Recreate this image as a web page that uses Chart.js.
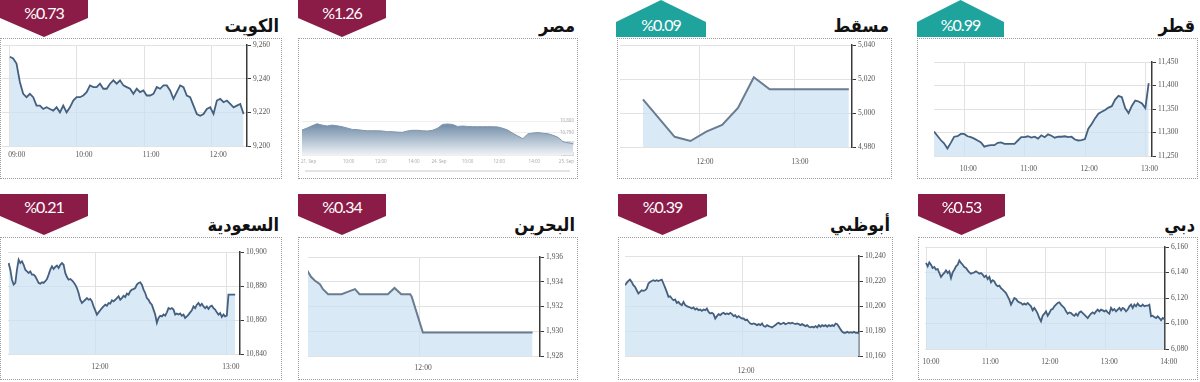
<!DOCTYPE html>
<html>
<head>
<meta charset="utf-8">
<script src="https://cdn.jsdelivr.net/npm/chart.js@4.4.1/dist/chart.umd.min.js"></script>
<style>
  body { margin: 0; width: 1200px; height: 382px; position: relative; overflow: hidden; background: #fff; }
  .card { position: absolute; box-sizing: border-box; border: 1px dotted #9c9c9c; }
  .title { position: absolute; font: bold 18px "DejaVu Sans Condensed", "DejaVu Sans", sans-serif; color: #111; direction: rtl; white-space: nowrap; line-height: 24px; }
  .badge { position: absolute; }
  .badge-text { position: absolute; width: 90px; text-align: center; color: #fff; font: 16px Lato, sans-serif; letter-spacing: -1px; line-height: 18px; direction: ltr; }
  canvas { position: absolute; }
  .nav { position: absolute; background: #e4e4e4; }
</style>
</head>
<body>
<script>
// market names, daily change and direction (up = teal badge)
const marketNames = ['الكويت', 'مصر', 'مسقط', 'قطر', 'السعودية', 'البحرين', 'أبوظبي', 'دبي'];
const marketChanges = ['%0.73', '%1.26', '%0.09', '%0.99', '%0.21', '%0.34', '%0.39', '%0.53'];
const marketUp = [false, false, true, true, false, false, false, false];

// Kuwait
const kuwaitTimeLabels = ['09:00', '10:00', '11:00', '12:00'];
const kuwaitTicks = [9200, 9220, 9240, 9260];
const kuwaitStart = '09:00', kuwaitStep = 2.985;
const kuwaitValues = [9253, 9252, 9249, 9238, 9231, 9229, 9231, 9229, 9224, 9224,
  9222, 9223, 9222, 9221, 9223, 9220, 9224, 9220, 9223, 9227,
  9229, 9229, 9230, 9232, 9236, 9235, 9235, 9237, 9234, 9234,
  9237, 9239, 9237, 9239, 9236, 9235, 9234, 9231, 9234, 9232,
  9233, 9230, 9230, 9231, 9235, 9234, 9236, 9236, 9233, 9228,
  9232, 9236, 9235, 9230, 9229, 9224, 9219, 9218, 9219, 9222,
  9223, 9219, 9227, 9228, 9226, 9227, 9225, 9223, 9224, 9225, 9219];

// Egypt
const egyptTimeLabels = ['21. Sep', '10:00', '12:00', '14:00', '24. Sep', '10:00', '12:00', '14:00', '25. Sep'];
const egyptTickAt = [1.3, 9.3, 15.7, 22.3, 27.3, 33, 39.3, 46.3, 52.7];
const egyptTicks = [10650, 10700, 10750, 10800];
const egyptValues = [10760, 10769, 10779, 10788, 10782, 10778, 10782, 10779, 10775, 10769,
  10763, 10762, 10759, 10757, 10757, 10757, 10756, 10753, 10753, 10751,
  10750, 10756, 10759, 10759, 10757, 10756, 10759, 10768, 10785, 10787,
  10785, 10776, 10778, 10776, 10775, 10775, 10775, 10775, 10775, 10774,
  10768, 10760, 10746, 10734, 10722, 10743, 10747, 10749, 10746, 10744,
  10737, 10728, 10709, 10704, 10701];

// Muscat
const muscatTimeLabels = ['12:00', '13:00'];
const muscatTicks = [4980, 5000, 5020, 5040];
const muscatStart = '11:24', muscatStep = 10;
const muscatValues = [5008, 4997, 4986, 4983.5, 4989, 4993, 5003, 5021, 5014, 5014, 5014, 5014, 5014, 5014];

// Qatar
const qatarTimeLabels = ['10:00', '11:00', '12:00', '13:00'];
const qatarTicks = [11250, 11300, 11350, 11400, 11450];
const qatarStart = '09:30', qatarStep = 3.33;
const qatarValues = [11302, 11293, 11284, 11277, 11266, 11278, 11291, 11292, 11297, 11297,
  11292, 11290, 11287, 11283, 11279, 11270, 11272, 11273, 11273, 11278,
  11279, 11276, 11276, 11276, 11276, 11283, 11290, 11290, 11292, 11289,
  11291, 11287, 11294, 11290, 11296, 11293, 11289, 11291, 11291, 11292,
  11290, 11291, 11285, 11283, 11284, 11286, 11308, 11318, 11330, 11340,
  11344, 11348, 11353, 11356, 11370, 11378, 11375, 11352, 11341, 11357,
  11368, 11366, 11362, 11352, 11405];

// Saudi
const saudiTimeLabels = ['12:00', '13:00'];
const saudiTicks = [10840, 10860, 10880, 10900];
const saudiStart = '11:20', saudiStep = 0.763;
const saudiValues = [10893.5, 10889.6, 10883.7, 10880.8, 10881.8, 10889.6, 10895.5, 10893.5, 10894.5, 10892.5,
  10889.6, 10888.6, 10887.7, 10888.6, 10886.7, 10886.7, 10885.7, 10883.7, 10881.8, 10881.4,
  10882.2, 10881.8, 10882.8, 10884.1, 10886.7, 10889.6, 10891.6, 10890, 10891.2, 10892,
  10890.6, 10892.5, 10893.5, 10892.5, 10887.7, 10885.3, 10883.7, 10884.1, 10883.3, 10882.2,
  10880.8, 10878.8, 10875.9, 10871.9, 10870, 10871, 10871.9, 10872.9, 10871.9, 10872.4,
  10871, 10868, 10865.7, 10863.2, 10864.5, 10865.7, 10867, 10868, 10869, 10868.4,
  10870, 10869.6, 10871.6, 10871, 10871.9, 10872.9, 10873.9, 10871.9, 10872.9, 10874.3,
  10873.5, 10875.5, 10874.9, 10876.9, 10877.9, 10878.2, 10878.8, 10880.8, 10881.8, 10882.2,
  10880.8, 10877.9, 10875.9, 10872.9, 10871.9, 10870, 10869, 10866.1, 10863.2, 10858.3,
  10861.2, 10862.5, 10862.1, 10863.2, 10862.5, 10864.5, 10867, 10866.5, 10867, 10866.1,
  10863.2, 10863.8, 10863.2, 10863.8, 10862.5, 10863.2, 10861.2, 10862.1, 10863.2, 10864.5,
  10865.7, 10868, 10867, 10869, 10870, 10868.4, 10869.6, 10868, 10867, 10868,
  10866.5, 10868, 10868.4, 10867, 10866.1, 10864.5, 10863.2, 10864.1, 10861.8, 10863.2,
  10862.1, 10862.5, 10874.9, 10874.9, 10874.9, 10874.9, 10874.9];

// Bahrain (irregular trades)
const bahrainTimeLabels = ['12:00'];
const bahrainTicks = [1928, 1930, 1932, 1934, 1936];
const bahrainTimes = ['09:30', '09:35', '09:40', '09:47', '09:51', '09:58', '10:16', '10:25', '10:34',
  '10:40', '11:18', '11:27', '11:36', '11:48', '11:50', '12:05', '14:32'];
const bahrainValues = [1934.9, 1934.4, 1934.1, 1933.8, 1933.4, 1933.0, 1933.0, 1933.2, 1933.4,
  1933.0, 1933.0, 1933.5, 1933.0, 1933.0, 1932.8, 1929.9, 1929.9];

// Abu Dhabi
const abudhabiTimeLabels = ['12:00'];
const abudhabiTicks = [10160, 10180, 10200, 10220, 10240];
const abudhabiStart = '10:00', abudhabiStep = 1.714;
const abudhabiValues = [10216.6, 10218.5, 10220, 10221.1, 10219.3, 10216.6, 10215.3, 10212.6, 10210, 10211.3,
  10212.6, 10212.1, 10212.6, 10214, 10218, 10219.3, 10220, 10220.6, 10220, 10220.6,
  10220, 10220.6, 10221.1, 10218, 10214.7, 10211.3, 10207.3, 10207.8, 10206, 10204.6,
  10205.2, 10202.5, 10203.3, 10201.5, 10200.7, 10203.3, 10200.7, 10199.9, 10199.3, 10198.8,
  10198, 10198.8, 10197.2, 10198, 10196.7, 10197.2, 10196.1, 10197.2, 10196.7, 10198,
  10195.3, 10194, 10194.5, 10193.5, 10190, 10191.9, 10193.5, 10192.7, 10194, 10194.5,
  10193.5, 10194, 10193.5, 10194.5, 10193.5, 10191.9, 10192.7, 10190.8, 10191.9, 10190.8,
  10190, 10190, 10188.7, 10189.2, 10187.4, 10186, 10185.5, 10186, 10185.5, 10184.7,
  10185.5, 10184.7, 10186, 10183.9, 10183.4, 10184.7, 10183.9, 10183.4, 10182.9, 10183.9,
  10184.7, 10186, 10186.6, 10185.5, 10186, 10186.6, 10185.5, 10186, 10186.6, 10186,
  10186.6, 10186, 10185.5, 10186, 10185.5, 10184.7, 10185.5, 10184.7, 10183.9, 10184.7,
  10183.4, 10182.9, 10183.4, 10182.9, 10183.9, 10182.9, 10184.7, 10183.4, 10184.7, 10183.9,
  10184.7, 10183.4, 10184.7, 10183.9, 10184.7, 10183.9, 10186, 10185.5, 10183.4, 10181.3,
  10179.4, 10178.6, 10178.6, 10179.4, 10178.6, 10179.1, 10178.6, 10179.4, 10178.6, 10178.6,
  10178];

// Dubai
const dubaiTimeLabels = ['10:00', '11:00', '12:00', '13:00', '14:00'];
const dubaiTicks = [6080, 6100, 6120, 6140, 6160];
const dubaiStart = '09:59', dubaiStep = 1.683;
const dubaiValues = [6147.5, 6144.8, 6148, 6146.1, 6143.5, 6144.3, 6142.2, 6142.8, 6139.6, 6136.5,
  6138.3, 6139.6, 6141.7, 6139.6, 6140.9, 6135.7, 6140.1, 6142.2, 6144.8, 6146.1,
  6149.5, 6147.5, 6146.1, 6144.3, 6143.5, 6141.7, 6140.1, 6139.1, 6139.6, 6140.1,
  6140.9, 6140.1, 6139.1, 6139.6, 6138.3, 6136.5, 6137.5, 6134.9, 6136.5, 6132.3,
  6133.9, 6133.1, 6130.5, 6129.2, 6129.7, 6127.8, 6126.5, 6125.2, 6123.9, 6121.3,
  6118.7, 6114.8, 6117.4, 6120, 6119.2, 6117.4, 6116.6, 6116.1, 6114.8, 6115.6,
  6114.8, 6116.1, 6114.8, 6113.5, 6110.3, 6112.2, 6110.3, 6107.7, 6104.3, 6101.7,
  6106.1, 6107.7, 6109.5, 6106.1, 6108.2, 6110.9, 6111.4, 6113.5, 6114.8, 6116.1,
  6116.6, 6114.8, 6113.5, 6112.2, 6109.5, 6107.7, 6108.7, 6108.2, 6106.9, 6106.1,
  6107.7, 6106.1, 6108.7, 6109.5, 6108.2, 6106.9, 6105.6, 6104.3, 6106.1, 6107.7,
  6108.7, 6107.7, 6109.5, 6110.9, 6109.5, 6110.9, 6110.3, 6109.5, 6110.3, 6108.7,
  6107.7, 6112.2, 6110.3, 6111.4, 6109.5, 6110.9, 6112.2, 6110.3, 6112.2, 6111.4,
  6109.5, 6110.9, 6113.5, 6114.8, 6112.2, 6114.8, 6113.5, 6115.6, 6114, 6113.5,
  6114.8, 6113.5, 6114, 6114, 6114.8, 6105.6, 6106.1, 6105, 6104.3, 6105.6,
  6104.3, 6102.5, 6104.3, 6103.5];

const toMin = s => { const [h, m] = s.split(':').map(Number); return h * 60 + m; };
const series = (start, step, values) => values.map((v, i) => ({ x: toMin(start) + i * step, y: v }));

// layout of each card: card box and plot box in page pixels
const panels = [
  { card: [0, 38, 282, 179], plot: [2, 45, 247, 146], xRange: [533, 752], points: series(kuwaitStart, kuwaitStep, kuwaitValues),
    xTicks: kuwaitTimeLabels.map(toMin), xLabels: kuwaitTimeLabels, yTicks: kuwaitTicks, labelOffset: 7, xPad: 5 },
  { card: [298, 38, 578, 179], plot: [302, 44, 573, 155], xRange: [0, 54], points: egyptValues.map((v, i) => ({ x: i, y: v })),
    xTicks: egyptTickAt, xLabels: egyptTimeLabels, yTicks: egyptTicks, yMax: 11140, egypt: true },
  { card: [617, 38, 892, 179], plot: [620, 45, 852, 147], xRange: [669.5, 816], points: series(muscatStart, muscatStep, muscatValues),
    xTicks: muscatTimeLabels.map(toMin), xLabels: muscatTimeLabels, yTicks: muscatTicks, labelOffset: 5, xPad: 11, thick: true },
  { card: [917, 38, 1198, 179], plot: [934, 62, 1152, 156], xRange: [570, 786.4], points: series(qatarStart, qatarStep, qatarValues),
    xTicks: qatarTimeLabels.map(toMin), xLabels: qatarTimeLabels, yTicks: qatarTicks, labelOffset: 4, xPad: 9 },
  { card: [0, 237, 282, 380], plot: [8, 252, 240, 354], xRange: [679.7, 786], points: series(saudiStart, saudiStep, saudiValues),
    xTicks: saudiTimeLabels.map(toMin), xLabels: saudiTimeLabels, yTicks: saudiTicks, labelOffset: 4, xPad: 9 },
  { card: [298, 237, 578, 380], plot: [308, 257, 540, 356], xRange: [571, 882], points: bahrainTimes.map((t, i) => ({ x: toMin(t), y: bahrainValues[i] })),
    xTicks: bahrainTimeLabels.map(toMin), xLabels: bahrainTimeLabels, yTicks: bahrainTicks, labelOffset: 4, xPad: 8, thick: true },
  { card: [618, 237, 893, 380], plot: [625, 256, 859, 356], xRange: [600, 840], points: series(abudhabiStart, abudhabiStep, abudhabiValues),
    xTicks: abudhabiTimeLabels.map(toMin), xLabels: abudhabiTimeLabels, yTicks: abudhabiTicks, labelOffset: 4, xPad: 11 },
  { card: [918, 237, 1198, 380], plot: [925, 247, 1165, 349], xRange: [598, 840.3], points: series(dubaiStart, dubaiStep, dubaiValues),
    xTicks: dubaiTimeLabels.map(toMin), xLabels: dubaiTimeLabels, yTicks: dubaiTicks, labelOffset: 4, xPad: 9 }
];

// badge boxes: left, top, width, height
const badgeBoxes = [
  [0, -2, 88, 39], [298, -2, 88, 39], [616, 0, 90, 37], [917, 0, 87, 37],
  [0, 194, 88, 41], [298, 194, 88, 41], [618, 194, 89, 41], [918, 194, 87, 41]
];

const M = 14;
const tickFont = { family: '"Liberation Serif", serif', size: 7.5 };

function addDiv(cls, css, text) {
  const d = document.createElement('div');
  d.className = cls;
  Object.assign(d.style, css);
  if (text) d.textContent = text;
  document.body.appendChild(d);
  return d;
}

panels.forEach((p, k) => {
  const [cl, ct, cr, cb] = p.card;
  addDiv('card', { left: cl + 'px', top: ct + 'px', width: (cr - cl) + 'px', height: (cb - ct) + 'px' });

  // title, right aligned above the card
  addDiv('title', { right: (1200 - cr + 3) + 'px', top: (ct - 24) + 'px' }, marketNames[k]);

  // badge shape
  const [bl, bt, bw, bh] = badgeBoxes[k];
  const up = marketUp[k];
  const cut = up ? 22 / bh * 100 : (bh - 19) / bh * 100;
  addDiv('badge', {
    left: bl + 'px', top: bt + 'px', width: bw + 'px', height: bh + 'px',
    background: up ? '#1fa39d' : '#8b1c47',
    clipPath: up ? `polygon(50% 0, 100% ${cut}%, 100% 100%, 0 100%, 0 ${cut}%)`
                 : `polygon(0 0, 100% 0, 100% ${cut}%, 50% 100%, 0 ${cut}%)`
  });
  const textY = up ? bt + 16 : bt + (k < 4 ? 6 : 4);
  addDiv('badge-text', { left: (bl + bw / 2 - 45) + 'px', top: textY + 'px' }, marketChanges[k]);

  if (p.egypt) addDiv('nav', { left: '305px', top: '170px', width: '265px', height: '2px' });

  const canvas = document.createElement('canvas');
  canvas.width = cr - cl + 2 * M;
  canvas.height = cb - ct;
  canvas.style.left = (cl - M) + 'px';
  canvas.style.top = ct + 'px';
  document.body.appendChild(canvas);

  const yW = cr - p.plot[2];
  const xH = cb - p.plot[3];
  const yMin = p.yTicks[0];
  const yMax = p.yMax || p.yTicks[p.yTicks.length - 1];

  const egyptFill = ctx => {
    const { chart } = ctx;
    if (!chart.chartArea) return 'rgba(0,0,0,0)';
    const g = chart.ctx.createLinearGradient(0, chart.scales.y.getPixelForValue(Math.max(...egyptValues)), 0, chart.chartArea.bottom);
    g.addColorStop(0, '#6f8ba7');
    g.addColorStop(1, '#eef2f6');
    return g;
  };

  new Chart(canvas, {
    type: 'line',
    data: {
      datasets: [{
        data: p.points,
        borderColor: p.egypt ? '#7f95aa' : (p.thick ? '#6a7c90' : '#45607f'),
        borderWidth: p.egypt ? 1 : (p.thick ? 2 : 1.8),
        backgroundColor: p.egypt ? egyptFill : 'rgba(204,224,243,0.72)',
        fill: 'start',
        pointRadius: 0,
        tension: 0
      }]
    },
    options: {
      responsive: false,
      animation: false,
      events: [],
      layout: { padding: { left: p.plot[0] - (cl - M), top: p.plot[1] - ct, right: M, bottom: 0 } },
      plugins: { legend: { display: false }, tooltip: { enabled: false } },
      scales: {
        x: {
          type: 'linear',
          min: p.xRange[0],
          max: p.xRange[1],
          afterBuildTicks: s => { s.ticks = p.xTicks.map(v => ({ value: v })); },
          afterFit: s => { s.height = xH; },
          border: { display: false },
          grid: { display: !p.egypt, color: '#e2e2e2', drawTicks: false },
          ticks: {
            autoSkip: false, maxRotation: 0,
            callback: (v, i) => p.xLabels[i],
            labelOffset: p.egypt ? 0 : p.labelOffset,
            padding: p.egypt ? 4 : p.xPad,
            color: p.egypt ? '#a9a9a9' : '#555',
            font: p.egypt ? { family: '"Open Sans", sans-serif', size: 4.5 } : tickFont
          }
        },
        y: {
          position: 'right',
          min: yMin,
          max: yMax,
          afterBuildTicks: s => { s.ticks = p.yTicks.map(v => ({ value: v })); },
          afterFit: s => { s.width = yW; },
          border: p.egypt ? { display: false } : { color: '#3a3a3a', width: 1.5 },
          grid: p.egypt ? { color: '#efefef', drawTicks: false }
                        : { color: '#e2e2e2', tickColor: '#3a3a3a', tickLength: 4 },
          ticks: {
            mirror: !!p.egypt,
            padding: p.egypt ? 1 : 2,
            callback: v => v.toLocaleString('en-US'),
            color: p.egypt ? '#a9a9a9' : '#555',
            font: p.egypt ? { family: '"Open Sans", sans-serif', size: 4.5 } : tickFont
          }
        }
      }
    }
  });
});
</script>
</body>
</html>
